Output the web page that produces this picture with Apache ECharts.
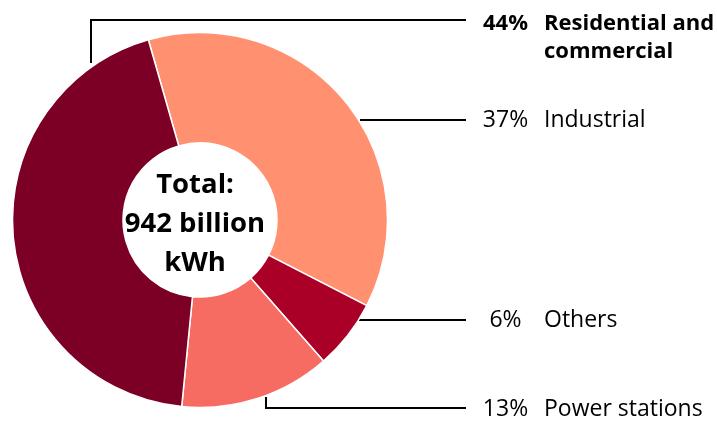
<!DOCTYPE html>
<html>
<head>
<meta charset="utf-8">
<script src="https://cdn.jsdelivr.net/npm/echarts@6/dist/echarts.min.js"></script>
<style>
  html, body { margin: 0; padding: 0; background: #fff; }
  #chart { width: 717px; height: 422px; }
</style>
</head>
<body>
<div id="chart"></div>
<script>
// Electricity consumption by sector (share of total, %)
const sectors = ['Industrial', 'Others', 'Power stations', 'Residential and commercial'];
const shares = [37, 6, 13, 44];
const sectorColors = ['#ff9170', '#aa0027', '#f76c62', '#7c0026'];
const totalValue = 942;
const totalUnit = 'billion kWh';

const FONT = '"Open Sans", sans-serif';

// Leader-line routing and label placement for each sector (pixel layout)
const leaderLayout = {
  'Residential and commercial': { points: [[91, 63], [91, 20], [466, 20]], y: 10, va: 'top' },
  'Industrial': { points: [[360, 120], [410, 120], [466, 120]], y: 120, va: 'middle' },
  'Others': { points: [[359, 320], [410, 320], [466, 320]], y: 320, va: 'middle' },
  'Power stations': { points: [[266, 397], [266, 408], [466, 408]], y: 409, va: 'middle' }
};
const labelX = 483;

const chart = echarts.init(document.getElementById('chart'), null, { renderer: 'canvas' });

chart.setOption({
  animation: false,
  series: [{
    type: 'pie',
    center: [200, 220],
    radius: [77, 187.5],
    startAngle: 106,
    clockwise: true,
    avoidLabelOverlap: false,
    data: sectors.map((name, i) => ({
      name: name,
      value: shares[i],
      itemStyle: { color: sectorColors[i] }
    })),
    itemStyle: { borderColor: '#fff', borderWidth: 1.5 },
    emphasis: { disabled: true },
    label: {
      show: true,
      position: 'outside',
      color: '#000',
      fontFamily: FONT,
      fontSize: 23,
      lineHeight: 28,
      formatter: function (p) {
        if (p.name === 'Residential and commercial') {
          return '{pctB|' + p.value + '%}{nameB|Residential and}\n{pad| }{nameB|commercial}';
        }
        return '{pct|' + p.value + '%}{name|' + p.name + '}';
      },
      rich: {
        pct: { width: 45, align: 'right', fontSize: 23, fontFamily: FONT, lineHeight: 28, color: '#000' },
        name: { padding: [0, 0, 0, 16], fontSize: 23, fontFamily: FONT, lineHeight: 28, color: '#000' },
        pctB: { width: 45, align: 'right', fontSize: 22, fontWeight: 'bold', fontFamily: FONT, lineHeight: 28, color: '#000' },
        nameB: { padding: [0, 0, 0, 16], fontSize: 22, fontWeight: 'bold', fontFamily: FONT, lineHeight: 28, color: '#000' },
        pad: { width: 45, fontSize: 22, lineHeight: 28 }
      }
    },
    labelLine: {
      show: true,
      length: 20,
      length2: 20,
      smooth: false,
      lineStyle: { color: '#000', width: 2 }
    },
    labelLayout: function (params) {
      const name = sectors[params.dataIndex];
      const l = leaderLayout[name];
      return {
        x: labelX,
        y: l.y,
        align: 'left',
        verticalAlign: l.va,
        labelLinePoints: l.points
      };
    }
  }],
  graphic: [{
    type: 'text',
    x: 195,
    y: 224,
    silent: true,
    style: {
      text: 'Total:\n' + totalValue + ' ' + totalUnit.replace(' ', '\n'),
      align: 'center',
      verticalAlign: 'middle',
      fontFamily: FONT,
      fontWeight: 'bold',
      fontSize: 27.5,
      lineHeight: 39,
      fill: '#000'
    }
  }]
});
</script>
</body>
</html>
